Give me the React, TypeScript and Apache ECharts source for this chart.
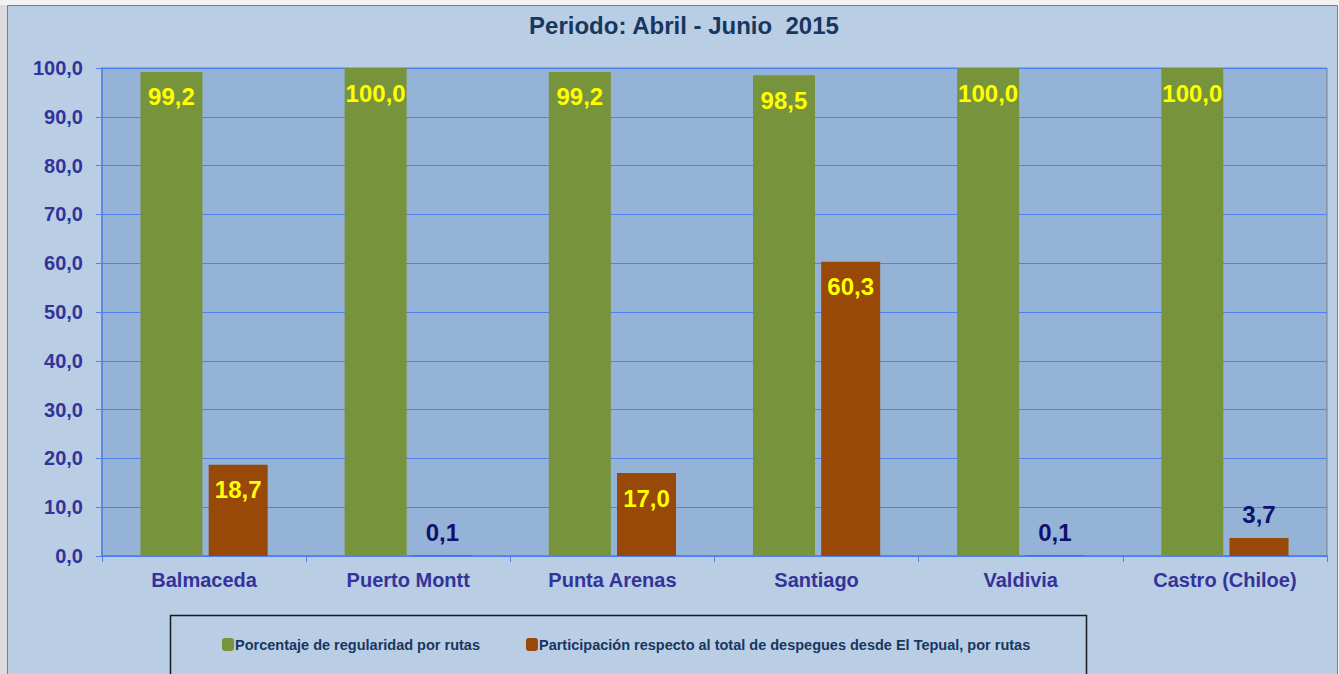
import React, { useEffect, useRef } from "react";
import * as echarts from "echarts";

const categories = ["Balmaceda", "Puerto Montt", "Punta Arenas", "Santiago", "Valdivia", "Castro (Chiloe)"];
const regularidad = [99.2, 100.0, 99.2, 98.5, 100.0, 100.0];
const participacion = [18.7, 0.1, 17.0, 60.3, 0.1, 3.7];
const seriesNames = [
  "Porcentaje de regularidad por rutas",
  "Participación respecto al total de despegues desde El Tepual, por rutas",
];
const titleText = "Periodo: Abril - Junio  2015";

const fmt = (v: number) => v.toFixed(1).replace(".", ",");
const FONT = "'Liberation Sans', Arial, sans-serif";

export default function App() {
  const ref = useRef<HTMLDivElement>(null);
  useEffect(() => {
    if (!ref.current) return;
    const chart = echarts.init(ref.current, undefined, { renderer: "svg" });
    const insideLabel = {
      show: true,
      position: "insideTop",
      distance: 13,
      color: "#ffff00",
      fontSize: 24,
      fontWeight: "bold",
      fontFamily: FONT,
      formatter: (p: any) => fmt(p.value),
    };
    const outsideLabel = {
      show: true,
      position: "top",
      distance: 11,
      color: "#10106e",
      fontSize: 24,
      fontWeight: "bold",
      fontFamily: FONT,
      formatter: (p: any) => fmt(p.value),
    };
    chart.setOption({
      animation: false,
      backgroundColor: "#f2f2f2",
      textStyle: { fontFamily: FONT },
      graphic: [
        { type: "rect", shape: { x: 0, y: 5, width: 7, height: 669 }, style: { fill: "#dcdcdc" }, z: -10 },
        {
          type: "rect",
          shape: { x: 7.5, y: 5.5, width: 1330, height: 680 },
          style: { fill: "#b9cde5", stroke: "#4f7ff0", lineWidth: 1 },
          z: -10,
        },
        {
          type: "rect",
          shape: { x: 170.5, y: 615.5, width: 916, height: 70 },
          style: { fill: "#b9cde5", stroke: "#1a1a1a", lineWidth: 1.5 },
          z: -5,
        },
      ],
      title: {
        text: titleText,
        left: 679,
        textAlign: "center",
        top: 8,
        textStyle: { color: "#17375e", fontSize: 24, fontWeight: "bold", fontFamily: FONT },
      },
      legend: {
        left: 217,
        top: 632,
        itemWidth: 12,
        itemHeight: 13,
        itemGap: 46,
        icon: "roundRect",
        textStyle: { color: "#17375e", fontSize: 14.5, fontWeight: "bold", fontFamily: FONT, padding: [0, 0, 0, -4] },
        data: seriesNames,
      },
      grid: {
        left: 102,
        right: 12,
        top: 68,
        bottom: 118,
        show: true,
        backgroundColor: "#95b3d7",
        borderColor: "#808080",
        borderWidth: 1,
      },
      xAxis: {
        type: "category",
        data: categories,
        axisLine: { lineStyle: { color: "#4f7ff0", width: 1.5 } },
        axisTick: { show: true, length: 6, lineStyle: { color: "#4f7ff0" } },
        axisLabel: { color: "#333399", fontSize: 20, fontWeight: "bold", margin: 14, fontFamily: FONT },
      },
      yAxis: {
        type: "value",
        min: 0,
        max: 100,
        interval: 10,
        axisLine: { show: true, lineStyle: { color: "#4f7ff0", width: 1.5 } },
        axisTick: { show: true, length: 6, lineStyle: { color: "#4f7ff0" } },
        splitLine: { lineStyle: { color: "#4f7ff0", width: 1 } },
        axisLabel: {
          color: "#333399",
          fontSize: 20,
          fontWeight: "bold",
          margin: 19,
          fontFamily: FONT,
          formatter: (v: number) => fmt(v),
        },
      },
      series: [
        {
          name: seriesNames[0],
          type: "bar",
          data: regularidad,
          barWidth: 62,
          barGap: "10%",
          itemStyle: { color: "#77933c" },
          label: insideLabel,
        },
        {
          name: seriesNames[1],
          type: "bar",
          data: participacion.map((v) => ({
            value: v,
            label: v >= 10 ? insideLabel : outsideLabel,
          })),
          barWidth: 59,
          itemStyle: { color: "#984807" },
        },
      ],
    });
    return () => chart.dispose();
  }, []);
  return (
    <div
      ref={ref}
      style={{ position: "absolute", left: 0, top: 0, width: 1339, height: 674 }}
    />
  );
}
